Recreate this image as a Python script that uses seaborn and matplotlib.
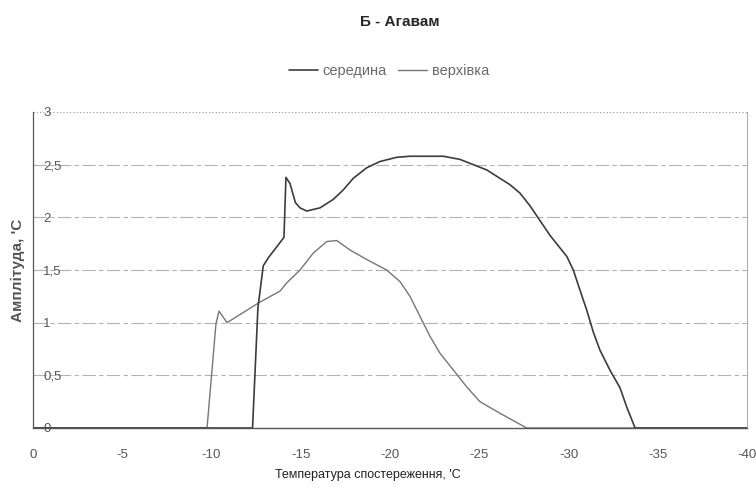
import numpy as np
import pandas as pd
import matplotlib
matplotlib.use("Agg")
import matplotlib.pyplot as plt
import seaborn as sns

# series
seredyna_t = [0, -12.3, -12.6, -12.9, -13.2, -13.7, -14.06, -14.17, -14.4, -14.7, -14.96, -15.33,
              -16.08, -16.82, -17.38, -17.94, -18.69, -19.44, -20.38, -21.12, -22.99, -23.92,
              -24.67, -25.42, -26.16, -26.72, -27.28, -27.84, -28.40, -28.96, -29.52, -29.90,
              -30.27, -30.64, -31.02, -31.39, -31.76, -32.32, -32.89, -33.26, -33.73, -40]
seredyna_a = [0, 0, 1.14, 1.54, 1.62, 1.73, 1.81, 2.38, 2.32, 2.14, 2.09, 2.06,
              2.09, 2.17, 2.26, 2.37, 2.47, 2.53, 2.57, 2.58, 2.58, 2.55,
              2.50, 2.45, 2.37, 2.31, 2.23, 2.11, 1.97, 1.83, 1.71, 1.63,
              1.50, 1.31, 1.12, 0.91, 0.74, 0.55, 0.38, 0.20, 0, 0]

verkhivka_t = [0, -9.75, -10.25, -10.42, -10.87, -12.66, -13.84, -14.23, -14.96, -15.70, -16.45,
               -17.01, -17.76, -18.69, -19.81, -20.56, -21.12, -21.68, -22.24, -22.80, -23.55,
               -24.30, -25.04, -26.16, -27.66, -40]
verkhivka_a = [0, 0, 0.99, 1.11, 1.0, 1.19, 1.30, 1.38, 1.50, 1.66, 1.77,
               1.78, 1.69, 1.60, 1.50, 1.39, 1.25, 1.06, 0.87, 0.71, 0.55,
               0.39, 0.25, 0.14, 0, 0]

x_ticks = [0, -5, -10, -15, -20, -25, -30, -35, -40]
y_ticks = [0, 0.5, 1, 1.5, 2, 2.5, 3]
y_labels = ["0", "0,5", "1", "1,5", "2", "2,5", "3"]

sns.set_style("white")
plt.rcParams['font.family'] = ['Liberation Sans', 'DejaVu Sans']

df1 = pd.DataFrame({'t': seredyna_t, 'a': seredyna_a})
df2 = pd.DataFrame({'t': verkhivka_t, 'a': verkhivka_a})

fig = plt.figure(figsize=(7.56, 4.88), dpi=100)
ax = fig.add_axes([33 / 756, 1 - 428 / 488, 714 / 756, 316 / 488])

# gridlines (scan looks broken/dashed)
for yv in y_ticks[1:-1]:
    ax.axhline(yv, color='#b3b3b3', lw=0.8, ls=(0, (12, 3, 4, 3)), zorder=0)
ax.axhline(3, color='#a0a0a0', lw=0.9, ls=':', zorder=0)

sns.lineplot(data=df2, x='t', y='a', sort=False, ax=ax, color='#767676', lw=1.0,
             label='верхівка', estimator=None)
sns.lineplot(data=df1, x='t', y='a', sort=False, ax=ax, color='#3c3c3c', lw=1.2,
             label='середина', estimator=None)

ax.set_xlim(0, -40)
ax.set_ylim(0, 3)
ax.set_xticks(x_ticks)
ax.set_xticklabels([str(v) for v in x_ticks])
ax.set_yticks(y_ticks)
ax.set_yticklabels(y_labels)

ax.tick_params(axis='x', length=0, pad=15, labelsize=9.5, labelcolor='#555555')
ax.tick_params(axis='y', direction='inout', length=7, width=0.8, color='#555555',
               pad=-11, labelsize=9.5, labelcolor='#555555')
for lab in ax.get_yticklabels():
    lab.set_horizontalalignment('left')

ax.spines['top'].set_visible(False)
ax.spines['left'].set_color('#555555')
ax.spines['bottom'].set_color('#555555')
ax.spines['right'].set_color('#b0b0b0')
ax.spines['left'].set_linewidth(0.9)
ax.spines['bottom'].set_linewidth(1.0)
ax.spines['right'].set_linewidth(0.8)

ax.set_xlabel('')
ax.set_ylabel('')

handles, labels = ax.get_legend_handles_labels()
order = [1, 0]
leg = ax.legend([handles[i] for i in order], [labels[i] for i in order], ncol=2,
                frameon=False, loc='center', bbox_to_anchor=(389 / 756, 1 - 71 / 488),
                bbox_transform=fig.transFigure, fontsize=10.5, handlelength=2.0,
                handletextpad=0.3, columnspacing=0.8)
for t in leg.get_texts():
    t.set_color('#6a6a6a')

fig.text(400 / 756, 1 - 22 / 488, 'Б - Агавам', ha='center', va='center', fontsize=11,
         fontweight='bold', family=['Liberation Sans Narrow', 'Liberation Sans', 'DejaVu Sans'])
fig.text(368 / 756, 1 - 475 / 488, "Температура спостереження, 'С", ha='center', va='center',
         fontsize=9, color='#222222')
fig.text(18 / 756, 1 - 270 / 488, "Амплітуда, 'С", ha='center', va='center', rotation=90,
         fontsize=11, fontweight='bold', color='#555555')

fig.savefig('out.png', dpi=100)
